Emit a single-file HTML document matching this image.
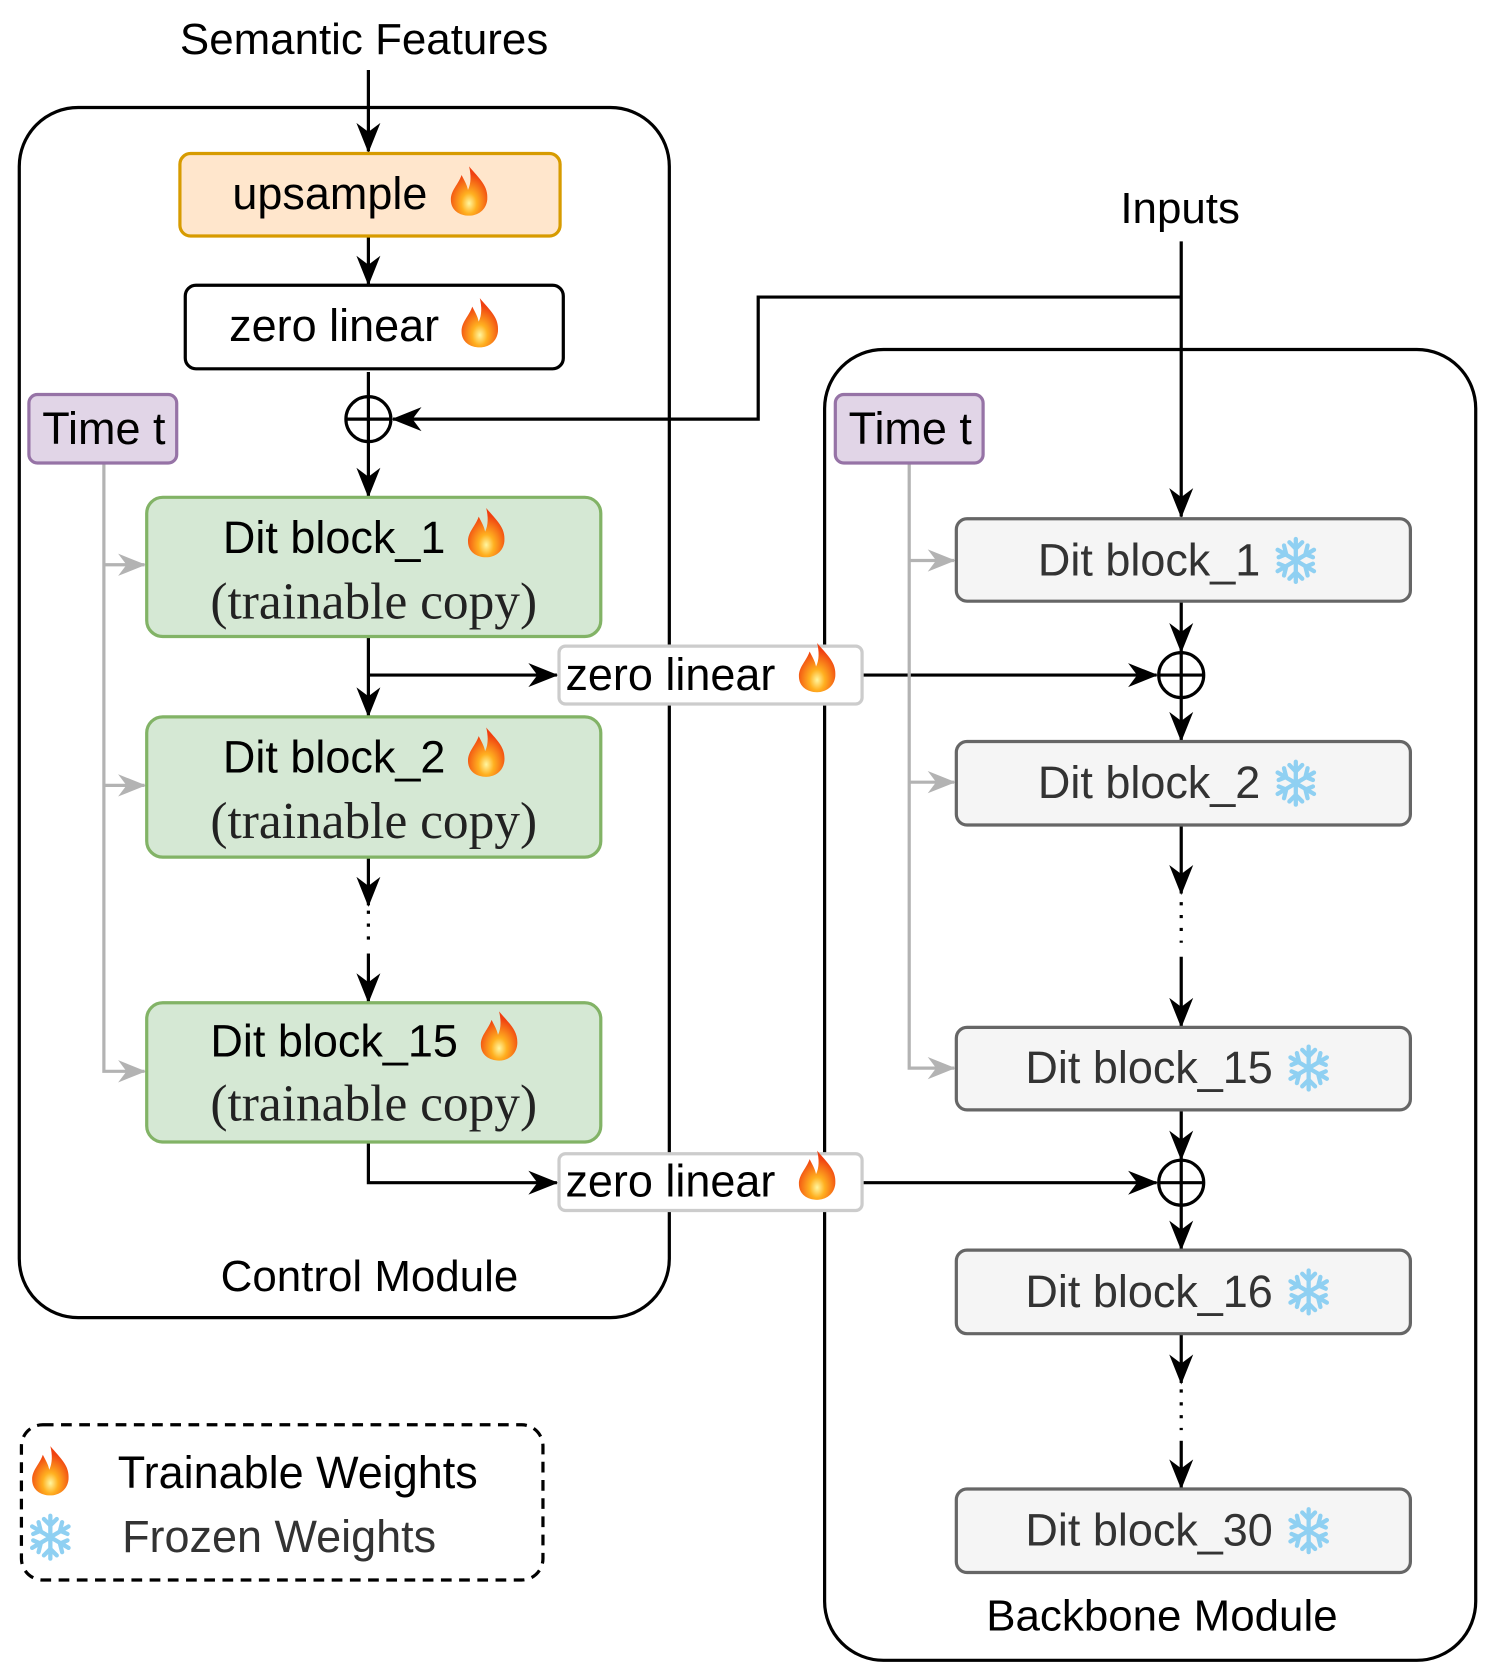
<!DOCTYPE html>
<html><head><meta charset="utf-8"><style>
html,body{margin:0;padding:0;background:#fff}
svg{display:block}
text{font-family:"Liberation Sans",sans-serif}
</style></head><body>
<svg width="1495" height="1680" viewBox="0 0 1396 1568" xmlns="http://www.w3.org/2000/svg">
<defs>
<radialGradient id="fg" cx="0.5" cy="0.75" r="0.6"><stop offset="0" stop-color="#fff6a0"/><stop offset="0.35" stop-color="#ffb020"/><stop offset="1" stop-color="#f04010"/></radialGradient>
<g id="fire"><path d="M20 0 C30 12 38 18 37 31 C36 41 28 46 20 46 C11 46 3 41 3 31 C3 22 10 17 13 8 C16 14 18 17 19 22 C22 16 22 8 20 0 Z" fill="url(#fg)"/></g>
<g id="snow" stroke="#8fd0f2" stroke-width="4" stroke-linecap="round" fill="none">
<line x1="20" y1="2" x2="20" y2="42"/><line x1="3" y1="12" x2="37" y2="32"/><line x1="3" y1="32" x2="37" y2="12"/>
<path d="M14 5 L20 11 L26 5 M14 39 L20 33 L26 39 M4 19 L11 16 L9 8 M36 25 L29 28 L31 36 M4 25 L11 28 L9 36 M36 19 L29 16 L31 8"/>
</g>
<marker id="a" viewBox="0 0 20 20" refX="19" refY="10" markerWidth="28" markerHeight="28" orient="auto" markerUnits="userSpaceOnUse"><path d="M0 2 L20 10 L0 18 L6 10 Z" fill="#000"/></marker>
<marker id="ag" viewBox="0 0 20 20" refX="19" refY="10" markerWidth="26" markerHeight="26" orient="auto" markerUnits="userSpaceOnUse"><path d="M0 2 L20 10 L0 18 L6 10 Z" fill="#b3b3b3"/></marker>
</defs>

<rect x="18" y="100" width="607" height="1130" rx="55" fill="none" stroke="#000" stroke-width="3"/>
<rect x="770" y="326" width="608" height="1224" rx="55" fill="none" stroke="#000" stroke-width="3"/>

<text x="340" y="50" font-size="41" text-anchor="middle">Semantic Features</text>
<text x="1102" y="208" font-size="41" text-anchor="middle">Inputs</text>
<text x="345" y="1205" font-size="41" text-anchor="middle">Control Module</text>
<text x="1085" y="1522" font-size="41" text-anchor="middle">Backbone Module</text>

<g stroke="#000" stroke-width="3" fill="none">
<line x1="344" y1="65" x2="344" y2="141" marker-end="url(#a)"/>
<line x1="344" y1="220" x2="344" y2="265" marker-end="url(#a)"/>
<line x1="344" y1="347" x2="344" y2="370"/>
<line x1="344" y1="412" x2="344" y2="463" marker-end="url(#a)"/>
<circle cx="344" cy="391" r="21"/><line x1="323" y1="391" x2="365" y2="391"/><line x1="344" y1="370" x2="344" y2="412"/>
<polyline points="1103,277 708,277 708,391 367,391" marker-end="url(#a)"/>
<line x1="1103" y1="225" x2="1103" y2="482" marker-end="url(#a)"/>
<line x1="344" y1="594" x2="344" y2="668" marker-end="url(#a)"/>
<line x1="344" y1="630" x2="520" y2="630" marker-end="url(#a)"/>
<line x1="805" y1="630" x2="1080" y2="630" marker-end="url(#a)"/>
<line x1="344" y1="800" x2="344" y2="845" marker-end="url(#a)"/>
<line x1="344" y1="850" x2="344" y2="885" stroke-dasharray="3 9"/>
<line x1="344" y1="890" x2="344" y2="935" marker-end="url(#a)"/>
<polyline points="344,1066 344,1104 520,1104" marker-end="url(#a)"/>
<line x1="805" y1="1104" x2="1080" y2="1104" marker-end="url(#a)"/>
<circle cx="1103" cy="630" r="21"/><line x1="1082" y1="630" x2="1124" y2="630"/><line x1="1103" y1="609" x2="1103" y2="651"/>
<circle cx="1103" cy="1104" r="21"/><line x1="1082" y1="1104" x2="1124" y2="1104"/><line x1="1103" y1="1083" x2="1103" y2="1125"/>
<line x1="1103" y1="561" x2="1103" y2="608" marker-end="url(#a)"/>
<line x1="1103" y1="651" x2="1103" y2="691" marker-end="url(#a)"/>
<line x1="1103" y1="770" x2="1103" y2="834" marker-end="url(#a)"/>
<line x1="1103" y1="842" x2="1103" y2="880" stroke-dasharray="3 9"/>
<line x1="1103" y1="893" x2="1103" y2="958" marker-end="url(#a)"/>
<line x1="1103" y1="1036" x2="1103" y2="1082" marker-end="url(#a)"/>
<line x1="1103" y1="1125" x2="1103" y2="1166" marker-end="url(#a)"/>
<line x1="1103" y1="1245" x2="1103" y2="1291" marker-end="url(#a)"/>
<line x1="1103" y1="1297" x2="1103" y2="1335" stroke-dasharray="3 9"/>
<line x1="1103" y1="1345" x2="1103" y2="1389" marker-end="url(#a)"/>
</g>

<g stroke="#b3b3b3" stroke-width="3" fill="none">
<polyline points="97,432 97,1000 135,1000" marker-end="url(#ag)"/>
<line x1="97" y1="527" x2="135" y2="527" marker-end="url(#ag)"/>
<line x1="97" y1="733" x2="135" y2="733" marker-end="url(#ag)"/>
<polyline points="849,432 849,997 891,997" marker-end="url(#ag)"/>
<line x1="849" y1="523" x2="891" y2="523" marker-end="url(#ag)"/>
<line x1="849" y1="730" x2="891" y2="730" marker-end="url(#ag)"/>
</g>

<rect x="168" y="143" width="355" height="77" rx="10" fill="#ffe6cc" stroke="#d79b00" stroke-width="3"/>
<text x="308" y="195" font-size="42" text-anchor="middle">upsample</text>
<use href="#fire" x="418" y="155"/>
<rect x="173" y="266" width="353" height="78" rx="10" fill="#fff" stroke="#000" stroke-width="3"/>
<text x="312" y="318" font-size="42" text-anchor="middle">zero linear</text>
<use href="#fire" x="428" y="278"/>
<rect x="27" y="368" width="138" height="64" rx="8" fill="#e1d5e7" stroke="#9673a6" stroke-width="3"/>
<text x="97" y="414" font-size="42" text-anchor="middle">Time t</text>
<rect x="780" y="368" width="138" height="64" rx="8" fill="#e1d5e7" stroke="#9673a6" stroke-width="3"/>
<text x="850" y="414" font-size="42" text-anchor="middle">Time t</text>

<g>
<rect x="137" y="464" width="424" height="130" rx="15" fill="#d5e8d4" stroke="#82b366" stroke-width="3"/>
<text x="312" y="516" font-size="42" text-anchor="middle">Dit block_1</text>
<use href="#fire" x="434" y="474"/>
<text x="349" y="577" font-size="48" text-anchor="middle" fill="#222" style="font-family:'Liberation Serif',serif">(trainable copy)</text>
<rect x="137" y="669" width="424" height="131" rx="15" fill="#d5e8d4" stroke="#82b366" stroke-width="3"/>
<text x="312" y="721" font-size="42" text-anchor="middle">Dit block_2</text>
<use href="#fire" x="434" y="679"/>
<text x="349" y="782" font-size="48" text-anchor="middle" fill="#222" style="font-family:'Liberation Serif',serif">(trainable copy)</text>
<rect x="137" y="936" width="424" height="130" rx="15" fill="#d5e8d4" stroke="#82b366" stroke-width="3"/>
<text x="312" y="986" font-size="42" text-anchor="middle">Dit block_15</text>
<use href="#fire" x="446" y="944"/>
<text x="349" y="1046" font-size="48" text-anchor="middle" fill="#222" style="font-family:'Liberation Serif',serif">(trainable copy)</text>
</g>

<rect x="522" y="603" width="283" height="54" rx="6" fill="#fff" stroke="#ccc" stroke-width="3"/>
<text x="528" y="644" font-size="42">zero linear</text>
<use href="#fire" x="743" y="600"/>
<rect x="522" y="1077" width="283" height="53" rx="6" fill="#fff" stroke="#ccc" stroke-width="3"/>
<text x="528" y="1117" font-size="42">zero linear</text>
<use href="#fire" x="743" y="1074"/>

<g>
<rect x="893" y="484" width="424" height="77" rx="10" fill="#f5f5f5" stroke="#666" stroke-width="3"/>
<text x="1073" y="537" font-size="42" text-anchor="middle" fill="#333">Dit block_1</text>
<use href="#snow" x="1190" y="501"/>
<rect x="893" y="692" width="424" height="78" rx="10" fill="#f5f5f5" stroke="#666" stroke-width="3"/>
<text x="1073" y="745" font-size="42" text-anchor="middle" fill="#333">Dit block_2</text>
<use href="#snow" x="1190" y="709"/>
<rect x="893" y="959" width="424" height="77" rx="10" fill="#f5f5f5" stroke="#666" stroke-width="3"/>
<text x="1073" y="1011" font-size="42" text-anchor="middle" fill="#333">Dit block_15</text>
<use href="#snow" x="1202" y="975"/>
<rect x="893" y="1167" width="424" height="78" rx="10" fill="#f5f5f5" stroke="#666" stroke-width="3"/>
<text x="1073" y="1220" font-size="42" text-anchor="middle" fill="#333">Dit block_16</text>
<use href="#snow" x="1202" y="1184"/>
<rect x="893" y="1390" width="424" height="78" rx="10" fill="#f5f5f5" stroke="#666" stroke-width="3"/>
<text x="1073" y="1443" font-size="42" text-anchor="middle" fill="#333">Dit block_30</text>
<use href="#snow" x="1202" y="1407"/>
</g>

<rect x="20" y="1330" width="487" height="145" rx="20" fill="none" stroke="#000" stroke-width="3" stroke-dasharray="10 7"/>
<use href="#fire" x="27" y="1350"/>
<text x="110" y="1389" font-size="42">Trainable Weights</text>
<use href="#snow" x="27" y="1413"/>
<text x="114" y="1449" font-size="42" fill="#333">Frozen Weights</text>
</svg>
</body></html>
